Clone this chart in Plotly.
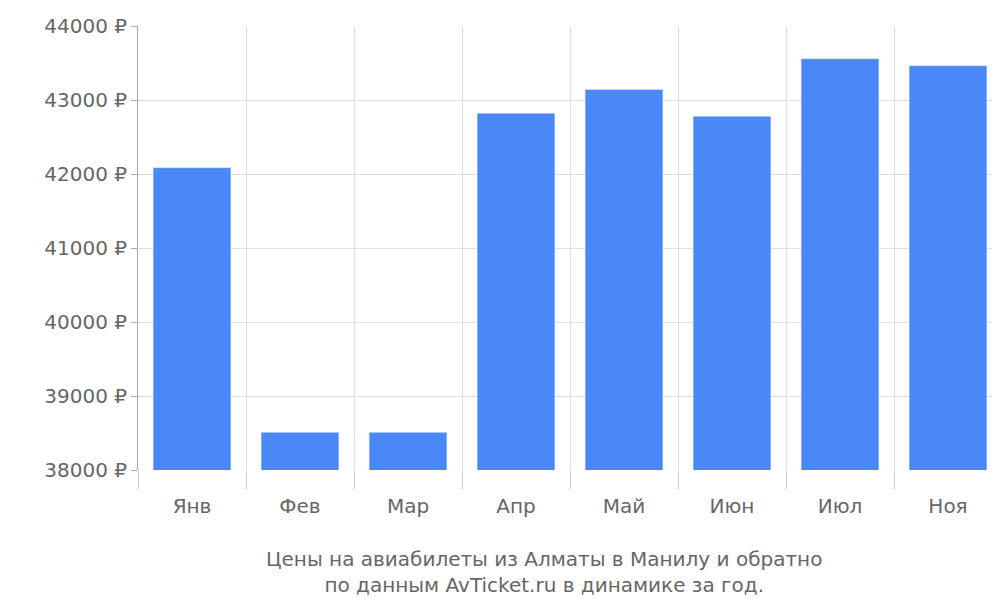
import plotly.graph_objects as go

months = ["Янв", "Фев", "Мар", "Апр", "Май", "Июн", "Июл", "Ноя"]
prices = [42085, 38509, 38509, 42821, 43143, 42781, 43558, 43464]
y_ticks = [38000, 39000, 40000, 41000, 42000, 43000, 44000]

pos = list(range(len(months)))
bounds = [p - 0.5 for p in pos] + [len(months) - 0.5]

fig = go.Figure()
fig.add_trace(go.Bar(x=pos, y=prices, marker_color="#4a88f8", width=0.72,
                     hoverinfo="y"))
# invisible trace to drive the boundary axis (gridlines + ticks between months)
fig.add_trace(go.Scatter(x=[bounds[0], bounds[-1]], y=[38000, 38000], xaxis="x2",
                         mode="markers", marker_opacity=0, hoverinfo="skip"))

fig.update_layout(
    width=1000, height=600, showlegend=False,
    plot_bgcolor="white", paper_bgcolor="white",
    margin=dict(l=130, r=6, t=14, b=138),
    font=dict(family="DejaVu Sans", size=20, color="#666666"),
    bargap=0.28,
    xaxis=dict(range=[-0.5, 7.5], tickvals=pos, ticktext=months,
               showgrid=False, ticks="", ticklabelstandoff=22, zeroline=False),
    xaxis2=dict(range=[-0.5, 7.5], overlaying="x", tickvals=bounds,
                showticklabels=False, ticks="outside", ticklen=18,
                tickcolor="#cccccc", showgrid=True, gridcolor="#dddddd",
                zeroline=False, side="bottom"),
    yaxis=dict(range=[38000, 44000], tickvals=y_ticks,
               ticktext=[f"{v} ₽" for v in y_ticks],
               showgrid=True, gridcolor="#dddddd", showline=True,
               linecolor="#aaaaaa", ticks="outside", ticklen=6,
               tickcolor="#aaaaaa", zeroline=False),
    annotations=[dict(text="Цены на авиабилеты из Алматы в Манилу и обратно<br>по данным AvTicket.ru в динамике за год.",
                      xref="paper", yref="paper", x=0.47, y=-0.17,
                      xanchor="center", yanchor="top", showarrow=False,
                      font=dict(size=20, color="#666666"))],
)

fig.write_html("out.html")
